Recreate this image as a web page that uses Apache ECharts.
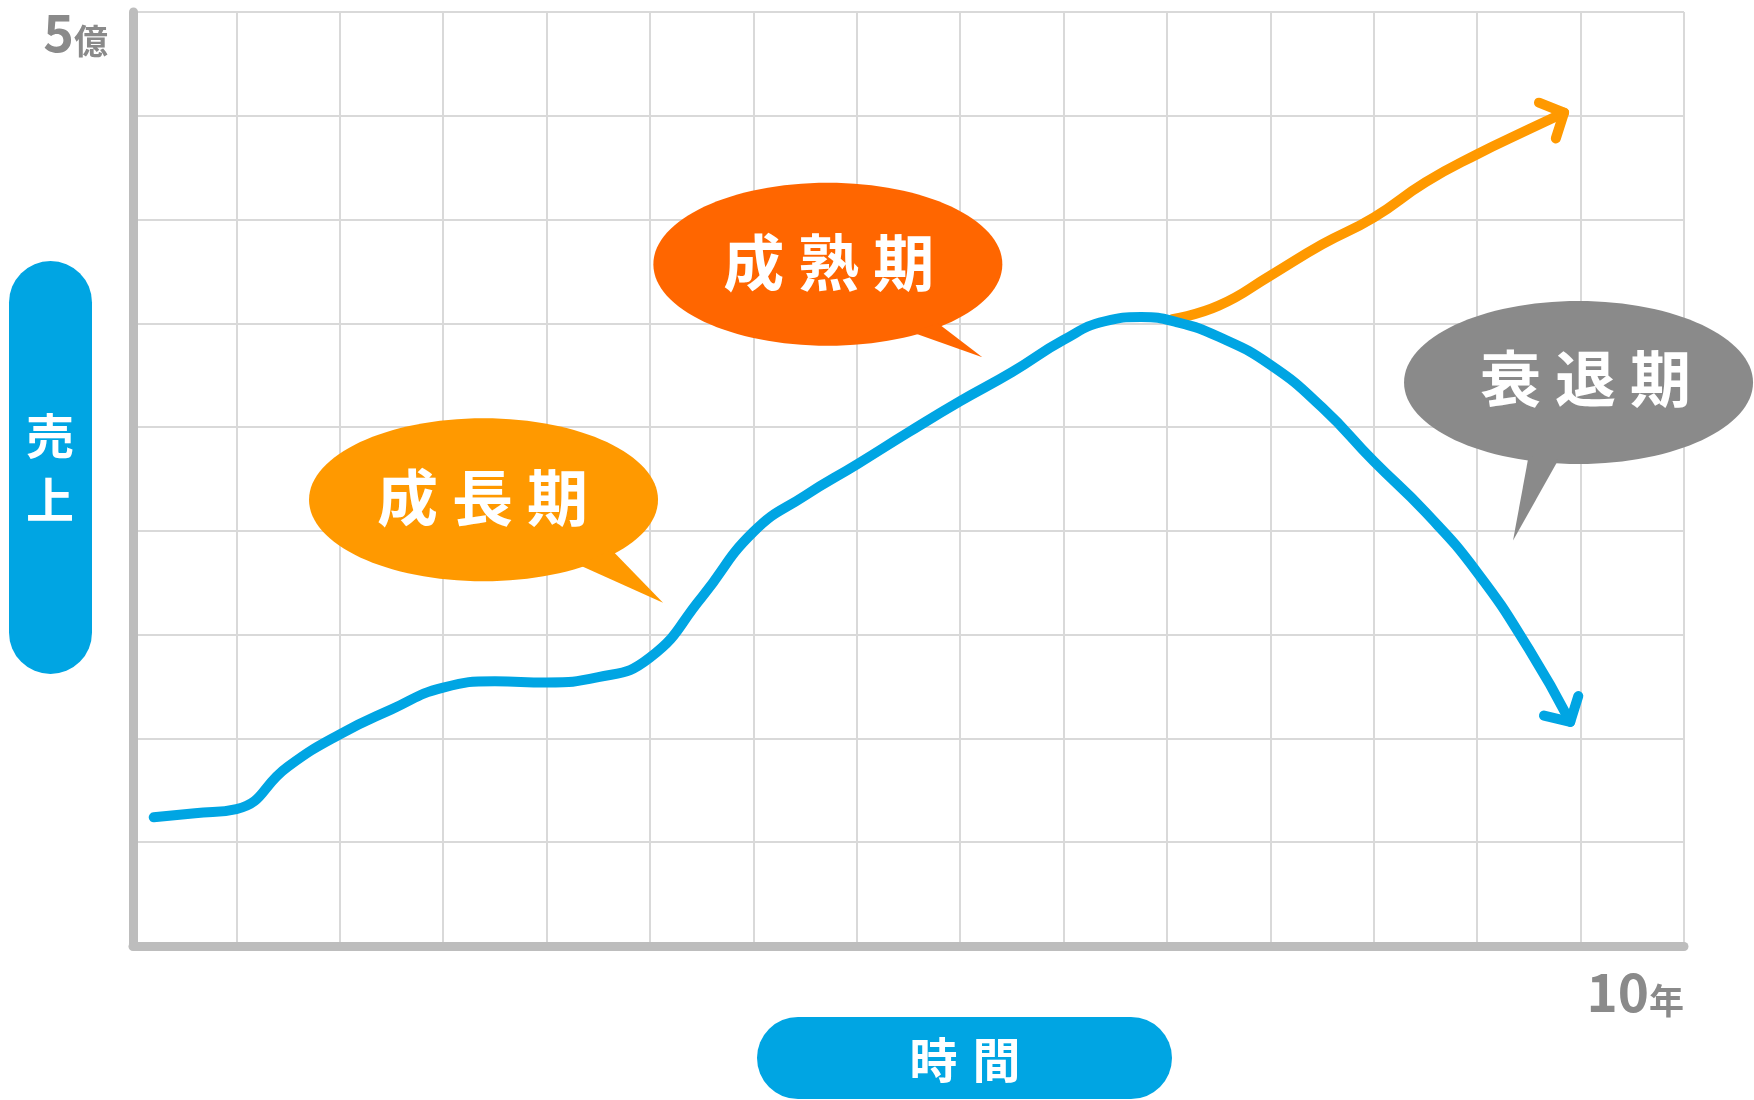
<!DOCTYPE html>
<html>
<head>
<meta charset="utf-8">
<script src="https://cdn.jsdelivr.net/npm/echarts@6/dist/echarts.min.js"></script>
<style>
html,body{margin:0;padding:0;background:#ffffff;}
#chart{width:1754px;height:1100px;}
</style>
</head>
<body>
<div id="chart"></div>
<script>
// ---- data ----
const xTickLabels = ['', '', '', '', '', '', '', '', '', '', '', '', '', '', '', '10年'];
const yTickLabels = ['', '', '', '', '', '', '', '', '', '5億'];

// sales curve (blue) : [time, sales]
const salesCurve = [
  [0.2, 1.24], [0.6, 1.28], [1.0, 1.32], [1.5, 1.73], [2.0, 2.04], [2.5, 2.28],
  [3.0, 2.49], [3.5, 2.55], [4.0, 2.54], [4.5, 2.59], [5.0, 2.78], [5.5, 3.36],
  [6.0, 3.99], [6.5, 4.34], [7.0, 4.64], [7.5, 4.95], [8.0, 5.25], [8.5, 5.53],
  [9.0, 5.84], [9.4, 6.02], [9.75, 6.06], [10.1, 6.01], [10.5, 5.87], [11.0, 5.60],
  [11.5, 5.19], [12.0, 4.67], [12.5, 4.18], [13.0, 3.60], [13.5, 2.86], [13.9, 2.16]
];
// alternative growth curve (orange)
const growthCurve = [
  [10.05, 6.04], [10.5, 6.17], [11.0, 6.46], [11.5, 6.76], [12.0, 7.02],
  [12.5, 7.36], [13.0, 7.63], [13.5, 7.87], [13.84, 8.03]
];

const phaseNames = ['成長期', '成熟期', '衰退期'];
const axisTitleY = '売上';
const axisTitleX = '時間';

// ---- styling / annotation layout ----
const BLUE = '#00a5e3';
const ORANGE = '#ff9900';
const FONT = '"Noto Sans CJK JP", "Noto Sans", sans-serif';
const phaseStyle = [
  { at: [3.39, 4.30], color: '#ff9900', tail: [[128, 50], [95, 65], [179.5, 103]], txt: [-1, -1.5] },
  { at: [6.72, 6.57], color: '#ff6600', tail: [[110, 59], [84, 68], [154.5, 93]], txt: [1, -1] },
  { at: [13.98, 5.43], color: '#8a8a8a', tail: [[-50, 74], [-20, 77], [-65.5, 158]], txt: [7, -4] }
];

function richLabel(s) {
  const m = (s || '').match(/^(\d+)(.*)$/);
  return m ? '{n|' + m[1] + '}{u|' + m[2] + '}' : '';
}

const chart = echarts.init(document.getElementById('chart'));
const labelColor = '#8a8a8a';
const LW = 10;

chart.setOption({
  animation: false,
  backgroundColor: '#ffffff',
  grid: { left: 133, right: 70, top: 12, bottom: 154, outerBoundsMode: 'none' },
  xAxis: {
    type: 'value', min: 0, max: 15, interval: 1,
    axisLine: { show: true, onZero: true, lineStyle: { color: '#bdbdbd', width: 9 } },
    axisTick: { show: false },
    splitLine: { show: true, lineStyle: { color: '#d9d9d9', width: 2 } },
    axisLabel: {
      show: true, margin: 28, align: 'right', verticalAlign: 'top',
      formatter: v => richLabel(xTickLabels[Math.round(v)]),
      rich: {
        n: { fontSize: 53, lineHeight: 44, fontWeight: 'bold', fontFamily: FONT, color: labelColor, verticalAlign: 'bottom' },
        u: { fontSize: 35, lineHeight: 35, fontWeight: 'bold', fontFamily: FONT, color: labelColor, verticalAlign: 'bottom' }
      }
    }
  },
  yAxis: {
    type: 'value', min: 0, max: 9, interval: 1,
    axisLine: { show: true, lineStyle: { color: '#bdbdbd', width: 9 } },
    axisTick: { show: false },
    splitLine: { show: true, lineStyle: { color: '#d9d9d9', width: 2 } },
    axisLabel: {
      show: true, margin: 25, align: 'right', verticalAlign: 'top',
      formatter: v => richLabel(yTickLabels[Math.round(v)]),
      rich: {
        n: { fontSize: 52, lineHeight: 46, fontWeight: 'bold', fontFamily: FONT, color: labelColor, verticalAlign: 'bottom' },
        u: { fontSize: 34, lineHeight: 34, fontWeight: 'bold', fontFamily: FONT, color: labelColor, verticalAlign: 'bottom' }
      }
    }
  },
  series: [
    {
      type: 'line', data: growthCurve, smooth: 0.5, showSymbol: false, silent: true,
      lineStyle: { color: ORANGE, width: LW, cap: 'round', join: 'round' }, z: 3
    },
    {
      type: 'line', data: salesCurve, smooth: 0.5, showSymbol: false, silent: true,
      lineStyle: { color: BLUE, width: LW, cap: 'round', join: 'round' }, z: 4
    }
  ]
});

function px(p) { return chart.convertToPixel({ gridIndex: 0 }, p); }

function arrowHead(curve, color) {
  const a = px(curve[curve.length - 2]);
  const b = px(curve[curve.length - 1]);
  let dx = a[0] - b[0], dy = a[1] - b[1];
  const len = Math.hypot(dx, dy); dx /= len; dy /= len;
  const ang = 47 * Math.PI / 180, L = 27;
  const r = (s) => [b[0] + L * (dx * Math.cos(s) - dy * Math.sin(s)), b[1] + L * (dx * Math.sin(s) + dy * Math.cos(s))];
  return {
    type: 'polyline', z: 10,
    shape: { points: [r(ang), b, r(-ang)] },
    style: { stroke: color, lineWidth: LW, lineCap: 'round', lineJoin: 'round', fill: null }
  };
}

function spacedText(str, cx, cy, size, step, color, z) {
  const out = [];
  const n = str.length;
  for (let i = 0; i < n; i++) {
    out.push({
      type: 'text', z: z,
      x: cx + (i - (n - 1) / 2) * step, y: cy,
      style: { text: str[i], fill: color, fontSize: size, fontWeight: 'bold', fontFamily: FONT, align: 'center', verticalAlign: 'middle' }
    });
  }
  return out;
}

const gfx = [];
gfx.push(arrowHead(growthCurve, ORANGE));
gfx.push(arrowHead(salesCurve, BLUE));

phaseNames.forEach((name, i) => {
  const st = phaseStyle[i];
  const c = px(st.at);
  gfx.push({ type: 'ellipse', z: 20, shape: { cx: c[0], cy: c[1], rx: 174.5, ry: 81.5 }, style: { fill: st.color } });
  gfx.push({ type: 'polygon', z: 20, shape: { points: st.tail.map(t => [c[0] + t[0], c[1] + t[1]]) }, style: { fill: st.color } });
  spacedText(name, c[0] + st.txt[0], c[1] + st.txt[1], 61, 75, '#ffffff', 21).forEach(e => gfx.push(e));
});

// axis title pills
gfx.push({ type: 'rect', z: 20, shape: { x: 9, y: 261, width: 83, height: 413, r: 41.5 }, style: { fill: BLUE } });
gfx.push({ type: 'text', z: 21, x: 50, y: 435.5, style: { text: axisTitleY[0], fill: '#fff', fontSize: 48, fontWeight: 'bold', fontFamily: FONT, align: 'center', verticalAlign: 'middle' } });
gfx.push({ type: 'text', z: 21, x: 50, y: 499.5, style: { text: axisTitleY[1], fill: '#fff', fontSize: 48, fontWeight: 'bold', fontFamily: FONT, align: 'center', verticalAlign: 'middle' } });
gfx.push({ type: 'rect', z: 20, shape: { x: 757, y: 1017, width: 415, height: 82, r: 41 }, style: { fill: BLUE } });
spacedText(axisTitleX, 965, 1059.5, 48, 63, '#ffffff', 21).forEach(e => gfx.push(e));

chart.setOption({ graphic: { elements: gfx } });
</script>
</body>
</html>
